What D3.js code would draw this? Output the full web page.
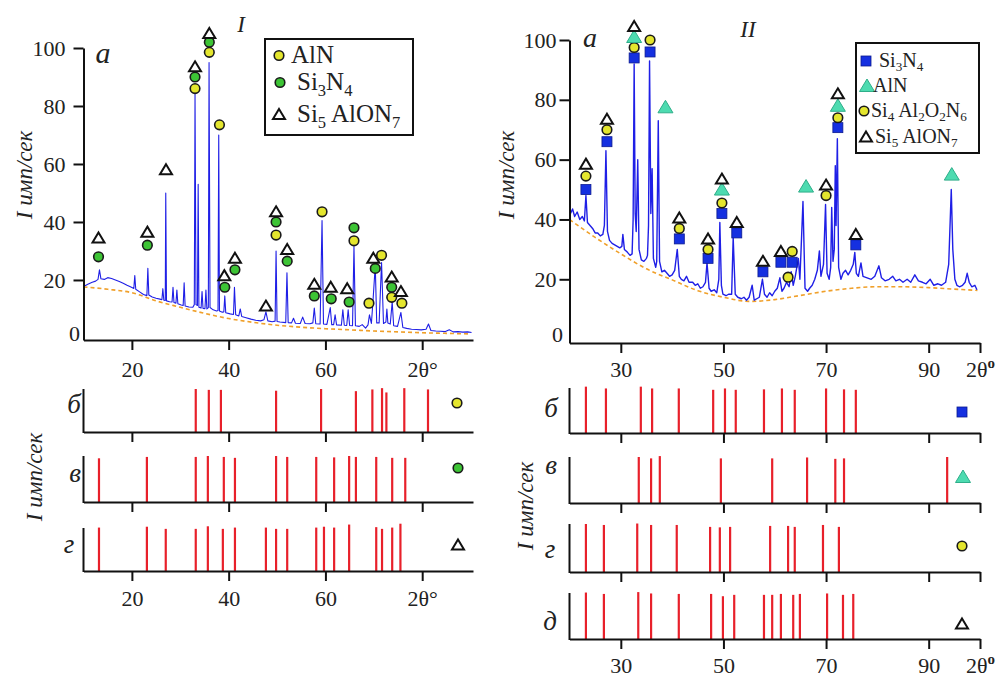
<!DOCTYPE html>
<html>
<head>
<meta charset="utf-8">
<script src="https://cdn.jsdelivr.net/npm/d3@7"></script>
<style>
  body { margin: 0; background: #fff; }
  svg { display: block; }
</style>
</head>
<body>
<svg id="chart" width="996" height="679"></svg>
<script>
// ---------- panel I data (2θ, I) ----------
const specI = [
  [10.3,18.0],[11.0,18.6],[11.8,19.2],[12.5,19.6],[13.0,20.2],[13.3,23.5],[13.6,20.4],[14.3,20.2],[15.0,20.8],
  [15.8,20.5],[16.6,20.0],[17.4,19.5],[18.2,18.9],[19.0,18.2],[19.8,17.6],[20.4,17.1],[20.6,21.5],[20.8,16.8],
  [21.6,15.9],[22.4,15.0],[23.1,14.6],[23.3,24.0],[23.5,14.8],[24.2,14.1],[25.0,13.7],[25.8,13.4],[26.2,13.2],
  [26.4,17.0],[26.6,13.0],[26.9,12.9],[27.0,50.0],[27.15,12.8],[27.8,12.5],[28.3,12.4],[28.5,17.5],[28.7,12.2],
  [29.1,12.0],[29.3,16.5],[29.5,11.8],[30.2,11.4],[30.6,11.2],[30.8,19.0],[31.0,11.0],[31.8,10.7],[32.6,10.6],
  [32.9,11.5],[33.05,84.0],[33.25,11.5],[33.55,11.2],[33.7,53.0],[33.85,10.6],[34.3,10.3],[34.5,16.0],[34.7,10.2],
  [35.1,10.1],[35.3,16.5],[35.5,10.0],[35.8,10.5],[35.95,95.0],[36.15,10.5],[36.8,9.7],[37.5,9.3],[37.8,9.5],
  [37.95,70.0],[38.1,9.3],[38.7,8.9],[39.0,9.0],[39.2,14.5],[39.4,8.7],[40.3,8.3],[41.0,8.1],[41.2,17.5],
  [41.45,8.0],[42.1,7.6],[42.4,10.0],[42.7,7.4],[43.6,7.0],[44.6,6.5],[45.6,6.1],[46.6,5.9],[47.3,6.3],
  [47.7,9.0],[48.1,5.9],[49.0,5.6],[49.6,5.8],[49.8,30.0],[50.0,5.7],[50.6,5.5],[51.8,5.3],[52.05,22.5],
  [52.3,5.3],[53.0,5.2],[53.4,6.8],[53.8,5.1],[54.8,5.0],[55.3,7.2],[55.8,5.0],[56.8,4.9],[57.4,5.2],
  [57.7,10.3],[58.0,4.9],[58.9,4.8],[59.3,40.5],[59.6,4.8],[60.3,4.7],[61.0,10.5],[61.3,4.6],[61.7,4.6],
  [62.0,8.0],[62.3,4.5],[63.3,4.4],[63.6,9.7],[63.9,4.4],[64.4,4.3],[64.7,9.7],[65.0,4.3],[65.6,4.2],
  [65.9,31.5],[66.2,4.2],[67.0,4.0],[67.6,4.6],[68.3,3.4],[68.8,4.5],[69.1,8.0],[69.5,5.0],[69.8,12.0],
  [70.3,25.0],[70.6,5.2],[71.1,5.2],[71.6,26.0],[72.0,5.0],[72.5,5.5],[72.7,10.0],[72.9,5.2],[73.4,4.8],
  [73.8,12.5],[74.1,4.2],[74.9,4.0],[75.6,8.8],[76.0,3.6],[76.8,3.3],[77.8,3.0],[78.8,2.9],[79.8,2.8],
  [80.8,3.0],[81.3,4.8],[81.8,2.6],[82.8,2.4],[83.8,2.3],[84.8,2.2],[85.6,2.8],[86.4,2.1],[87.4,2.2],
  [88.4,2.0],[89.4,2.1],[90.2,1.9]
];
const bgI = [[10,17.6],[15,16.8],[20,15.6],[25,12.8],[30,10.6],[35,8.5],[40,6.7],[45,5.4],[50,4.4],
  [55,3.7],[60,3.2],[65,2.8],[70,2.4],[75,2.1],[80,1.8],[85,1.6],[90,1.4]];
// [2θ, height, phase]
const markersI = [
  [13.1,28,"circG"],[13.1,34.5,"tri"],
  [23.2,32,"circG"],[23.2,36.5,"tri"],
  [27.05,58,"tri"],
  [33.05,86,"circY"],[33.05,90,"circG"],[33.05,93.5,"tri"],
  [36.0,98.5,"circY"],[36.0,102,"circG"],[36.0,105,"tri"],
  [38.1,73.5,"circY"],
  [39.2,17.5,"circG"],[39.1,21.5,"tri"],
  [41.3,23.5,"circG"],[41.3,27.5,"tri"],
  [47.7,11,"tri"],
  [49.8,35.5,"circY"],[49.8,40,"circG"],[49.8,43.5,"tri"],
  [52.1,26.5,"circG"],[52.1,30.5,"tri"],
  [57.7,14.5,"circG"],[57.7,18.5,"tri"],
  [59.3,43.5,"circY"],
  [61.2,13.5,"circG"],[61.1,17.5,"tri"],
  [64.9,12.4,"circG"],[64.5,17,"tri"],
  [65.9,33.5,"circY"],[65.9,38,"circG"],
  [69.0,12,"circY"],
  [70.3,24,"circG"],[69.9,27.5,"tri"],
  [71.6,28.5,"circY"],
  [73.7,14,"circY"],[73.7,17.5,"circG"],[73.7,21,"tri"],
  [75.8,12,"circY"],[75.6,16,"tri"]
];
// reference lines [2θ, relative height]
const sticksAlN_I = [[33.2,100],[35.9,98],[38.4,98],[49.8,96],[59.1,100],[66.3,95],[69.7,99],[71.7,102],[72.6,92],[76.3,102],[81.2,99]];
const sticksSi3N4_I = [[13.2,95],[23.1,98],[33.2,98],[35.7,100],[39.0,98],[41.3,96],[49.8,100],[52.1,98],[58.1,98],
  [61.8,97],[64.9,100],[66.3,98],[70.5,98],[73.8,96],[76.5,96]];
const sticksSialon_I = [[13.2,101],[23.1,103],[27.0,98],[33.2,98],[35.7,104],[38.8,98],[41.3,101],[47.7,101],[49.8,98],
  [52.1,98],[58.1,101],[59.7,103],[61.8,101],[64.9,108],[70.5,102],[71.7,98],[73.8,101],[75.5,110]];

// ---------- panel II data ----------
const specII = [
  [20.2,42],[20.6,43.5],[21,41],[21.5,42.5],[22,40],[22.5,41],[22.9,39.5],[23.2,48],[23.5,39],[24,38],[24.5,37],
  [25,35.5],[25.5,35.5],[26,34.5],[26.5,35],[26.8,38],[27.1,63],[27.4,36],[27.8,33],[28.3,32],[28.8,31.5],
  [29.3,31],[29.8,30.5],[30.2,31],[30.4,35],[30.7,30],[31.3,29],[31.8,28],[32.2,28.5],[32.4,40],[32.6,92],
  [32.8,42],[33.0,36],[33.3,60],[33.55,30],[34.0,26.5],[34.5,26],[35.0,27],[35.2,28],[35.4,38],[35.6,93],
  [35.85,42],[36.1,57],[36.35,27],[36.8,24],[37.0,26],[37.3,73],[37.55,26],[38.0,22.5],[38.5,23],[39,22],
  [39.5,21],[40,21.5],[40.5,23],[41.0,30],[41.4,21],[41.8,20],[42.3,19.5],[42.8,21],[43.3,19],[44,19],
  [44.5,18],[45,18.5],[45.5,17],[46,17.5],[46.5,19],[46.8,25.5],[47.2,17],[47.6,16],[48.2,16.5],[48.7,15.5],
  [49.1,20],[49.3,39],[49.6,18],[49.9,15],[50.5,14.5],[51,15],[51.6,15],[51.9,34],[52.3,15],[52.8,14],
  [53.5,13.5],[54,14],[54.5,13],[55,14],[55.6,18],[56,13],[56.5,13.5],[57,14],[57.6,20],[58,15],[58.5,14],
  [59,15.5],[59.5,14.5],[60,16],[60.5,17],[61,20.5],[61.4,16],[61.8,17],[62.3,19],[62.8,17.5],[63.2,22.5],
  [63.6,18],[64.0,21],[64.6,27],[64.9,20],[65.5,46],[65.9,17],[66.4,16],[66.8,17],[67.3,18],[67.8,20],
  [68.3,23],[68.7,29.5],[69.0,21],[69.5,25],[69.9,45],[70.2,22],[70.6,20],[70.9,24],[71.1,44],[71.35,26],
  [71.6,30],[71.8,58],[71.95,38],[72.2,67],[72.45,24],[72.9,20],[73.3,22],[73.8,23],[74.3,21.5],[74.8,23],
  [75.3,25],[75.6,29],[75.9,22],[76.3,21],[76.8,25.5],[77.2,21],[78,20.5],[78.8,20],[79.5,21],[80.3,24.5],
  [80.8,20.5],[81.5,19.5],[82.3,20],[83.0,21],[83.6,19.5],[84.3,20],[85,19],[85.8,20],[86.5,19],[87.3,21.5],
  [88,19.5],[88.8,19],[89.5,18.5],[90.3,20],[91,18],[91.8,18.5],[92.5,18],[93.3,19],[93.9,25],[94.4,50],
  [94.7,30],[95.1,20],[95.5,18],[96,17.5],[96.6,18],[97.1,19],[97.5,22],[97.9,19],[98.4,17.5],[99,18],[99.4,16.5]
];
const bgII = [[20,40],[25,34],[30,28.5],[35,23.5],[40,19.8],[45,16.2],[50,14],[55,12.6],[60,13.2],[65,14.6],
  [70,16],[75,17],[80,17.5],[85,17.5],[90,17.2],[95,16.7],[99.5,16.3]];
const markersII = [
  [23.2,50,"sq"],[23.2,54.5,"circY"],[23.2,58.5,"tri"],
  [27.3,66,"sq"],[27.3,70,"circY"],[27.3,73.5,"tri"],
  [32.6,94,"sq"],[32.6,97.5,"circY"],[32.6,101,"triT"],[32.6,104.5,"tri"],
  [35.7,96,"sq"],[35.7,100,"circY"],
  [38.7,77.5,"triT"],
  [41.4,33.5,"sq"],[41.4,37,"circY"],[41.4,40.5,"tri"],
  [47.0,27,"sq"],[47.0,30,"circY"],[47.0,33.5,"tri"],
  [49.7,42,"sq"],[49.7,45.5,"circY"],[49.7,50,"triT"],[49.7,53.5,"tri"],
  [52.6,35.5,"sq"],[52.6,39,"tri"],
  [57.7,22.5,"sq"],[57.7,26,"tri"],
  [61.2,25.7,"sq"],[61.2,29.3,"tri"],
  [63.4,25.7,"sq"],[63.4,29.3,"circY"],[62.6,20.7,"circY"],
  [66.1,51,"triT"],
  [70.0,48,"circY"],[70.0,51.5,"tri"],
  [72.3,70.7,"sq"],[72.3,74,"circY"],[72.3,78,"triT"],[72.3,82,"tri"],
  [75.8,31.5,"sq"],[75.8,35,"tri"],
  [94.5,55,"triT"]
];
const sticksSi3N4_II = [[23.2,103],[27.1,99],[33.9,103],[36.1,99],[41.3,99],[48.0,96],[50.3,99],[52.4,96],[57.9,97],
  [61.4,99],[63.9,96],[70.0,99],[73.5,97],[75.8,96]];
const sticksAlN_II = [[33.5,100],[35.9,97],[37.6,102],[49.5,97],[59.5,97],[66.3,99],[71.8,96],[73.5,97],[93.6,100]];
const sticksSiAlON_II = [[23.2,100],[26.7,98],[33.2,101],[35.9,98],[40.9,98],[47.4,94],[49.3,93],[51.3,94],[59.1,96],
  [62.6,96],[63.9,94],[69.4,98],[72.5,94]];
const sticksSialon_II = [[23.2,101],[26.7,98],[33.4,102],[35.9,99],[41.3,98],[47.6,98],[49.9,93],[52.1,96],[57.9,96],
  [59.5,96],[61.2,98],[63.6,96],[64.9,98],[70.2,99],[73.3,96],[75.3,98]];

const yTicks = [20, 40, 60, 80, 100];
const xTicksI = [20, 40, 60, 80];
const xTicksII = [30, 50, 70, 90, 100];

const legendI = [
  {mark: "circY", parts: [["AlN", 0]]},
  {mark: "circG", parts: [["Si", 0], ["3", 1], ["N", 0], ["4", 1]]},
  {mark: "tri", parts: [["Si", 0], ["5", 1], [" AlON", 0], ["7", 1]]}
];
const legendII = [
  {mark: "sq", parts: [["Si", 0], ["3", 1], ["N", 0], ["4", 1]]},
  {mark: "triT", parts: [["AlN", 0]]},
  {mark: "circY", parts: [["Si", 0], ["4", 1], [" Al", 0], ["2", 1], ["O", 0], ["2", 1], ["N", 0], ["6", 1]]},
  {mark: "tri", parts: [["Si", 0], ["5", 1], [" AlON", 0], ["7", 1]]}
];

// pick the first serif face the browser really has
function pickFont(list) {
  const ctx = document.createElement("canvas").getContext("2d");
  const probe = "AlN Si имп/сек 2θ 0123";
  for (const f of list) {
    for (const base of ["monospace", "sans-serif"]) {
      ctx.font = `40px ${base}`;
      const w0 = ctx.measureText(probe).width;
      ctx.font = `40px "${f}", ${base}`;
      if (Math.abs(ctx.measureText(probe).width - w0) > 0.5) return `"${f}", serif`;
    }
  }
  return "serif";
}
const FONT = pickFont(["Liberation Serif", "Tinos", "Times New Roman", "DejaVu Serif", "Noto Serif", "FreeSerif"]);

// ---------- drawing ----------
const svg = d3.select("#chart");
const BLUE = "#1f1fe6", ORANGE = "#f0a02a", RED = "#e8202a";

const xI = d3.scaleLinear().domain([10, 90.5]).range([83.5, 473]);
const yI = d3.scaleLinear().domain([-0.7, 100]).range([340, 48]);
const xII = d3.scaleLinear().domain([20, 100]).range([569.5, 980]);
const yII = d3.scaleLinear().domain([-1.3, 100]).range([343, 40]);

function drawMarker(g, type, cx, cy) {
  if (type === "circY" || type === "circG") {
    g.append("circle").attr("cx", cx).attr("cy", cy).attr("r", 4.8)
      .attr("fill", type === "circY" ? "#e4e62e" : "#3dc435")
      .attr("stroke", "#1a1a1a").attr("stroke-width", 1.6);
  } else if (type === "tri") {
    g.append("path").attr("d", `M${cx},${cy - 5.5}L${cx + 6},${cy + 4.5}L${cx - 6},${cy + 4.5}Z`)
      .attr("fill", "#fff").attr("stroke", "#111").attr("stroke-width", 2);
  } else if (type === "triT") {
    g.append("path").attr("d", `M${cx},${cy - 7}L${cx + 7.5},${cy + 5.5}L${cx - 7.5},${cy + 5.5}Z`)
      .attr("fill", "#4ddbb0").attr("stroke", "#2fae8a").attr("stroke-width", 1);
  } else if (type === "sq") {
    g.append("rect").attr("x", cx - 5).attr("y", cy - 5).attr("width", 10).attr("height", 10)
      .attr("fill", "#1530e0").attr("stroke", "#0c1a90").attr("stroke-width", 0.8);
  }
}

function richText(g, x, y, size, parts) {
  const t = g.append("text").attr("x", x).attr("y", y).style("font-size", size + "px");
  const shift = size * 0.22;
  let sub = false;
  parts.forEach(([s, isSub]) => {
    const sp = t.append("tspan").text(s);
    if (isSub) sp.style("font-size", (size * 0.66) + "px");
    if (isSub && !sub) sp.attr("dy", shift);
    else if (!isSub && sub) sp.attr("dy", -shift);
    sub = !!isSub;
  });
  return t;
}

function axisText(sel) {
  sel.attr("font-family", null);
  sel.selectAll("text").style("font-size", "22px").attr("fill", "#222");
  sel.selectAll("line, path").attr("stroke", "#111").attr("stroke-width", 2);
}

// two-theta label with the degree mark
function thetaLabel(sel, raised) {
  sel.text("2θ");
  sel.append("tspan").text(raised ? "o" : "°")
    .attr("dy", raised ? "-0.55em" : 0)
    .style("font-size", raised ? "15px" : "22px")
    .style("font-weight", raised ? "bold" : "normal");
}

function yTitle(x, y) {
  svg.append("text").attr("transform", `translate(${x},${y}) rotate(-90)`)
    .attr("text-anchor", "middle").style("font-size", "23px").style("font-style", "italic")
    .text("I имп/сек");
}

function drawSpectrum(o) {
  const g = svg.append("g");
  const axisY = o.y.range()[0];
  // background
  g.append("path").datum(o.bg)
    .attr("d", d3.line().x(d => o.x(d[0])).y(d => o.y(d[1])).curve(d3.curveMonotoneX))
    .attr("fill", "none").attr("stroke", ORANGE).attr("stroke-width", 1.6).attr("stroke-dasharray", "4,3");
  // measured pattern
  g.append("path").datum(o.spec)
    .attr("d", d3.line().x(d => o.x(d[0])).y(d => o.y(d[1])))
    .attr("fill", "none").attr("stroke", BLUE).attr("stroke-width", o.lw).attr("stroke-linejoin", "round");

  const ax = g.append("g").attr("transform", `translate(0,${axisY})`)
    .call(d3.axisBottom(o.x).tickValues(o.xTicks).tickSize(10).tickSizeOuter(0).tickPadding(o.xPad)
      .tickFormat(d => d === o.thetaAt ? "" : d));
  axisText(ax);
  ax.selectAll(".tick").filter(d => d === o.thetaAt).select("text").call(s => thetaLabel(s, o.raised));

  const ay = g.append("g").attr("transform", `translate(${o.x.range()[0]},0)`)
    .call(d3.axisLeft(o.y).tickValues(yTicks).tickSize(10).tickPadding(o.yPad).tickSizeOuter(0));
  axisText(ay);
  g.append("text").attr("x", o.zeroX).attr("y", o.y(0) + 3).attr("text-anchor", "end")
    .style("font-size", "22px").text("0");

  o.markers.forEach(m => drawMarker(g, m[2], o.x(m[0]), o.y(m[1])));
}

function drawSticks(o) {
  const g = svg.append("g");
  const y = d3.scaleLinear().domain([0, 100]).range([o.base, o.top]);
  g.selectAll("line.stick").data(o.data).join("line").attr("class", "stick")
    .attr("x1", d => o.x(d[0])).attr("x2", d => o.x(d[0]))
    .attr("y1", o.base).attr("y2", d => y(d[1]))
    .attr("stroke", RED).attr("stroke-width", 2.2);
  const ax = g.append("g").attr("transform", `translate(0,${o.base})`)
    .call(d3.axisBottom(o.x).tickValues(o.xTicks).tickSize(10).tickSizeOuter(0).tickPadding(o.xPad)
      .tickFormat(d => o.labels ? (d === o.thetaAt ? "" : d) : ""));
  axisText(ax);
  if (o.labels) {
    ax.selectAll(".tick").filter(d => d === o.thetaAt).select("text").call(s => thetaLabel(s, o.raised));
  }
  g.append("line").attr("x1", o.x.range()[0]).attr("x2", o.x.range()[0])
    .attr("y1", o.base + 1).attr("y2", o.top).attr("stroke", "#111").attr("stroke-width", 2);
  g.append("text").attr("x", o.lx).attr("y", o.ly).attr("text-anchor", "middle")
    .style("font-size", "27px").style("font-style", "italic").text(o.name);
  drawMarker(g, o.mark, o.mx, o.my);
}

function drawLegend(box, items, size, rows, mx, tx) {
  const g = svg.append("g");
  g.append("rect").attr("x", box[0]).attr("y", box[1]).attr("width", box[2]).attr("height", box[3])
    .attr("fill", "#fff").attr("stroke", "#111").attr("stroke-width", 2);
  items.forEach((it, i) => {
    drawMarker(g, it.mark, mx[i], rows[i] - size * 0.3);
    richText(g, tx[i], rows[i], size, it.parts);
  });
}

// panel I
drawSpectrum({x: xI, y: yI, spec: specI, bg: bgI, markers: markersI, xTicks: xTicksI, lw: 1.1,
  thetaAt: 80, raised: false, xPad: 11, yPad: 8, zeroX: 80});
drawSticks({x: xI, data: sticksAlN_I, base: 432, top: 389, xTicks: xTicksI, xPad: 11,
  name: "б", lx: 74, ly: 413, mark: "circY", mx: 457, my: 403});
drawSticks({x: xI, data: sticksSi3N4_I, base: 502, top: 456, xTicks: xTicksI, xPad: 11,
  name: "в", lx: 75, ly: 482, mark: "circG", mx: 458, my: 468});
drawSticks({x: xI, data: sticksSialon_I, base: 571, top: 528, xTicks: xTicksI, xPad: 9, labels: true,
  thetaAt: 80, raised: false, name: "г", lx: 69, ly: 553, mark: "tri", mx: 458, my: 545});

// panel II
drawSpectrum({x: xII, y: yII, spec: specII, bg: bgII, markers: markersII, xTicks: xTicksII, lw: 1.4,
  thetaAt: 100, raised: true, xPad: 8, yPad: 3, zeroX: 563});
drawSticks({x: xII, data: sticksSi3N4_II, base: 433, top: 388, xTicks: xTicksII, xPad: 8,
  name: "б", lx: 551, ly: 417, mark: "sq", mx: 962, my: 412});
drawSticks({x: xII, data: sticksAlN_II, base: 503, top: 457, xTicks: xTicksII, xPad: 8,
  name: "в", lx: 551, ly: 474, mark: "triT", mx: 963, my: 477});
drawSticks({x: xII, data: sticksSiAlON_II, base: 572, top: 524, xTicks: xTicksII, xPad: 8,
  name: "г", lx: 550, ly: 558, mark: "circY", mx: 962, my: 546});
drawSticks({x: xII, data: sticksSialon_II, base: 639, top: 593, xTicks: xTicksII, xPad: 8, labels: true,
  thetaAt: 100, raised: true, name: "д", lx: 550, ly: 630, mark: "tri", mx: 962, my: 624});

// legends
drawLegend([265, 39, 148, 96], legendI, 25, [63, 90, 122], [279, 280, 279], [291, 297, 297]);
drawLegend([856, 43, 123, 110], legendII, 20, [67, 92, 117, 143], [866, 867, 864, 866], [879, 873, 871, 875]);

// titles
yTitle(32, 175);
yTitle(42, 477);
yTitle(514, 175);
yTitle(533, 506);
svg.append("text").attr("x", 241).attr("y", 32).attr("text-anchor", "middle")
  .style("font-size", "23px").style("font-style", "italic").text("I");
svg.append("text").attr("x", 748).attr("y", 37).attr("text-anchor", "middle")
  .style("font-size", "23px").style("font-style", "italic").text("II");
svg.append("text").attr("x", 103).attr("y", 63).attr("text-anchor", "middle")
  .style("font-size", "30px").style("font-style", "italic").text("а");
svg.append("text").attr("x", 590).attr("y", 47).attr("text-anchor", "middle")
  .style("font-size", "28px").style("font-style", "italic").text("а");

// serif face for every label
svg.selectAll("text").style("font-family", FONT).style("fill", "#222");
</script>
</body>
</html>
